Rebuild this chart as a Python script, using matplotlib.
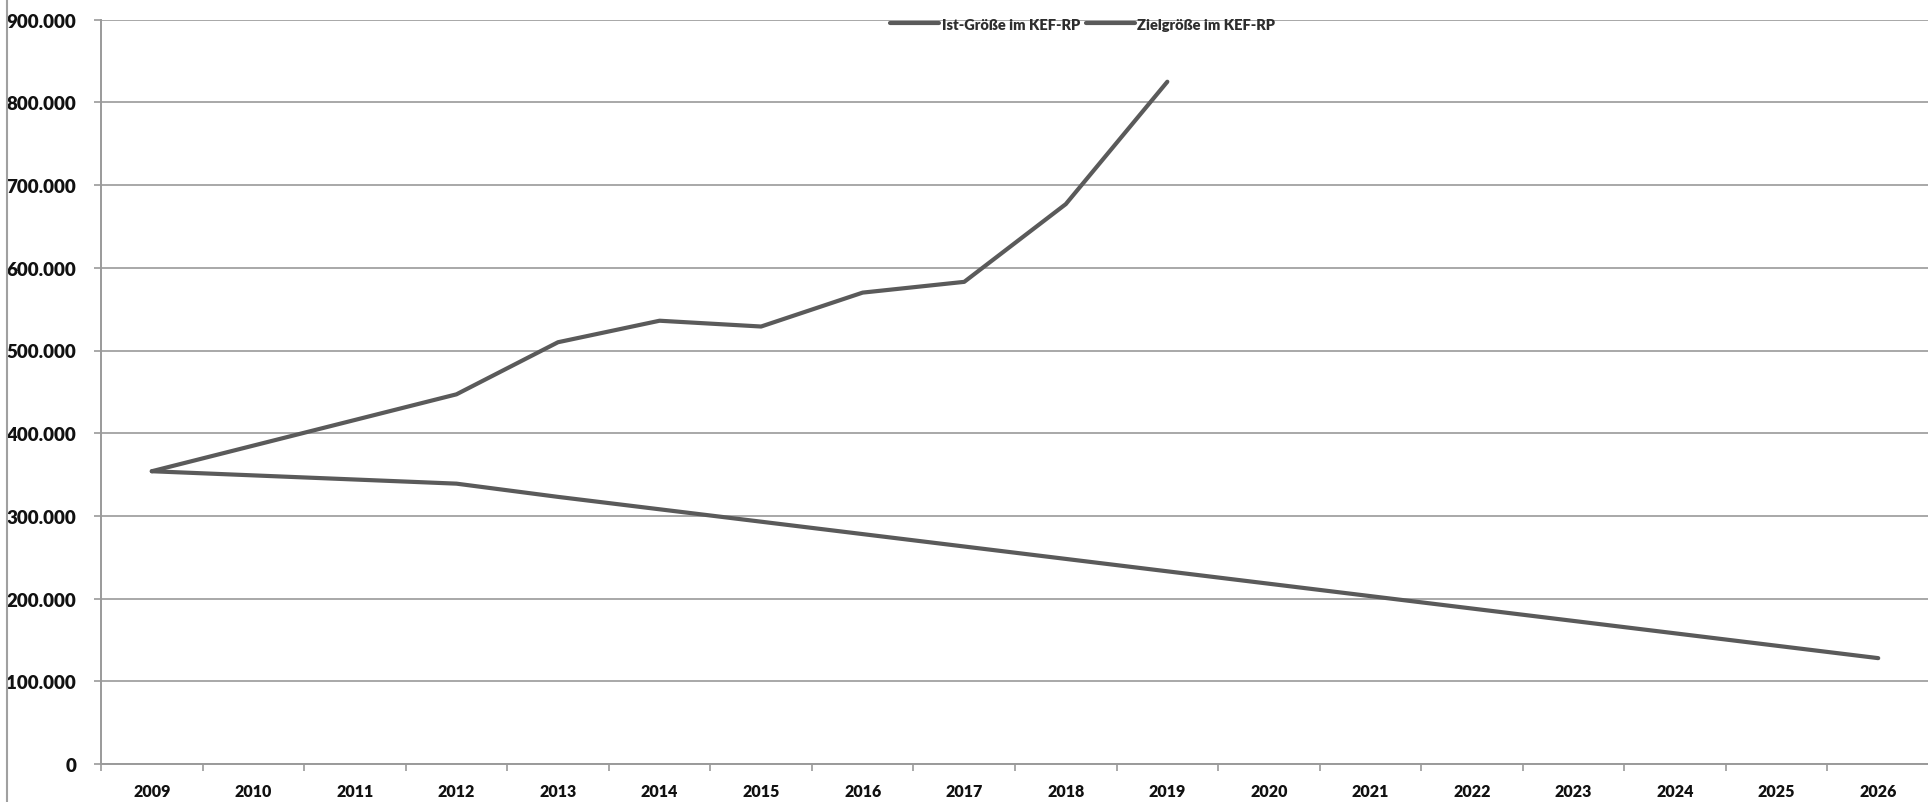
import matplotlib
matplotlib.use("Agg")
import matplotlib.pyplot as plt
from matplotlib.lines import Line2D
from matplotlib.ticker import FuncFormatter, MultipleLocator

years = [str(y) for y in range(2009, 2027)]
ist = [354000, 385000, 416000, 447000, 510000, 536000, 529000, 570000, 583000,
       677000, 825000]
ziel = [354000, 349000, 344000, 339000, 323000, 308000, 293000, 278000, 263000,
        248000, 233000, 218000, 203000, 188000, 173000, 158000, 143000, 128000]
series_names = ["Ist-Größe im KEF-RP", "Zielgröße im KEF-RP"]

plt.rcParams['font.family'] = ['Lato', 'DejaVu Sans']

fig = plt.figure(figsize=(19.28, 8.03), dpi=100)
ax = fig.add_axes([101/1928, 1 - 765/803, (1929 - 101)/1928, (765 - 20.7)/803])

line_col = '#5a5a5a'
grid_col = '#a8a8a8'
x_all = list(range(len(years)))
ax.plot(x_all[:len(ist)], ist, color=line_col, lw=3.0, solid_joinstyle='round',
        solid_capstyle='round', label=series_names[0], zorder=3)
ax.plot(x_all[:len(ziel)], ziel, color=line_col, lw=3.0, solid_joinstyle='round',
        solid_capstyle='round', label=series_names[1], zorder=3)

ax.set_xlim(-0.5, len(years) - 0.5)
ax.set_ylim(0, 900000)
ax.yaxis.set_major_locator(MultipleLocator(100000))
ax.yaxis.set_major_formatter(FuncFormatter(lambda v, p: f"{int(v):,}".replace(",", ".")))
ax.set_xticks(x_all)
ax.set_xticklabels(years)
ax.set_xticks([i - 0.5 for i in range(len(years) + 1)], minor=True)

ax.grid(axis='y', color=grid_col, lw=1.4, zorder=1)
ax.set_axisbelow(True)
for s in ['top', 'right']:
    ax.spines[s].set_visible(False)
for s in ['left', 'bottom']:
    ax.spines[s].set_color('#9a9a9a')
    ax.spines[s].set_linewidth(1.4)

ax.tick_params(axis='x', which='major', length=0, pad=14, labelsize=11.5,
               labelcolor='#111111')
ax.tick_params(axis='x', which='minor', length=5, width=1.2, color='#9a9a9a', direction='out')
ax.tick_params(axis='y', length=5, width=1.2, color='#9a9a9a', pad=13, labelsize=13.5,
               labelcolor='#111111')
for lab in ax.get_xticklabels() + ax.get_yticklabels():
    lab.set_fontweight('heavy')

leg = ax.legend(loc='center', bbox_to_anchor=(0.537, 1 - (25 - 20.7) / (765 - 20.7)),
                ncol=2, frameon=False, handlelength=3.4, handletextpad=0.15,
                columnspacing=0.4, borderaxespad=0,
                prop={'family': ['Lato', 'DejaVu Sans'], 'weight': 'heavy', 'size': 10.5})
for t in leg.get_texts():
    t.set_color('#2e2e2e')

# scan border on the left edge
fig.add_artist(Line2D([7/1928, 7/1928], [0, 1], transform=fig.transFigure,
                      color='#a0a0a0', lw=1.5))

fig.savefig('out.png', dpi=100, facecolor='white')
